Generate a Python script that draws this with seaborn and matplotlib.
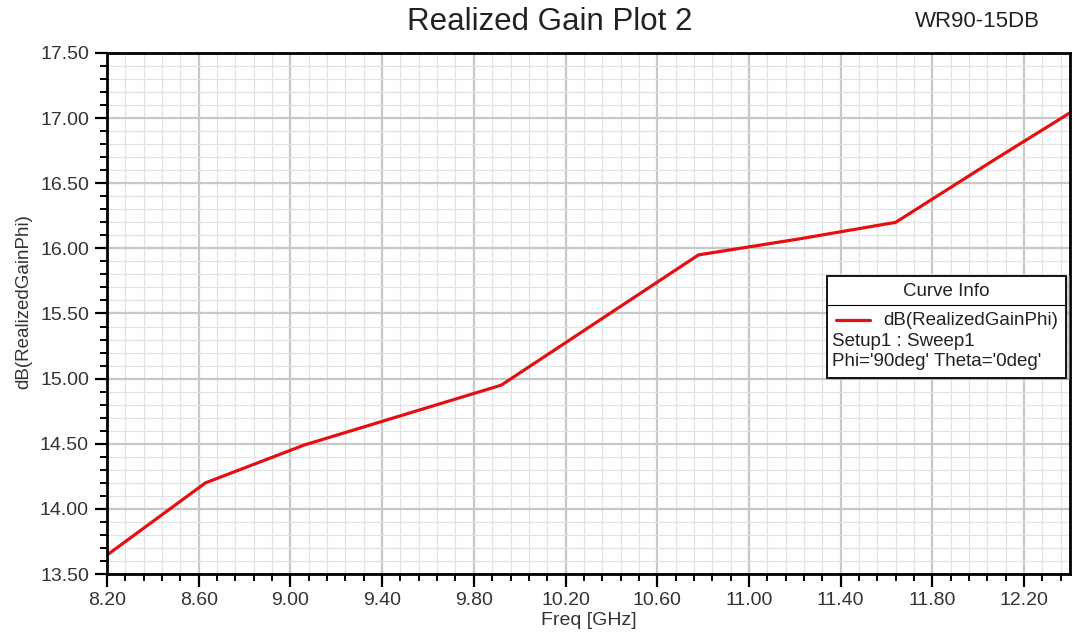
import numpy as np
import pandas as pd
import matplotlib
matplotlib.use('Agg')
import matplotlib.pyplot as plt
from matplotlib.ticker import FixedLocator, FormatStrFormatter
from matplotlib.patches import Rectangle
from matplotlib.lines import Line2D
import seaborn as sns

# datos
freq_ghz = [8.20, 8.63, 9.06, 9.49, 9.92, 10.35, 10.78, 11.21, 11.64, 12.07, 12.50]
gain_db = [13.645, 14.20, 14.49, 14.72, 14.95, 15.45, 15.95, 16.07, 16.20, 16.68, 17.15]

titulo = 'Realized Gain Plot 2'
nombre_diseno = 'WR90-15DB'
serie = 'dB(RealizedGainPhi)'
info_extra = ["Setup1 : Sweep1", "Phi='90deg' Theta='0deg'"]

x_mayores = np.arange(8.2, 12.25, 0.4)
x_menores = np.arange(8.2, 12.41, 0.08)
y_mayores = np.arange(13.5, 17.51, 0.5)
y_menores = np.arange(13.5, 17.51, 0.1)

df = pd.DataFrame({'freq': freq_ghz, 'gain': gain_db})

sns.set_style('white')
plt.rcParams['font.family'] = ['Liberation Sans', 'DejaVu Sans']

fig = plt.figure(figsize=(10.76, 6.37), dpi=100)
ax = fig.add_axes([0.0994, 0.0989, 0.895, 0.8179])

# grilla
ax.xaxis.set_major_locator(FixedLocator(x_mayores))
ax.xaxis.set_minor_locator(FixedLocator(x_menores))
ax.yaxis.set_major_locator(FixedLocator(y_mayores))
ax.yaxis.set_minor_locator(FixedLocator(y_menores))
ax.grid(which='major', color='#c8c8c8', linewidth=1.6)
ax.grid(which='minor', color='#e2e2e2', linewidth=0.9)
ax.set_axisbelow(True)

sns.lineplot(data=df, x='freq', y='gain', ax=ax, color='#e41010', linewidth=2.3,
             legend=False)

ax.set_xlim(8.2, 12.4)
ax.set_ylim(13.5, 17.5)
ax.xaxis.set_major_formatter(FormatStrFormatter('%.2f'))
ax.yaxis.set_major_formatter(FormatStrFormatter('%.2f'))

ax.tick_params(which='major', direction='out', length=9, width=1.6, colors='black',
               labelsize=14, labelcolor='#333333', bottom=True, left=True, pad=4)
ax.tick_params(which='minor', direction='out', length=5, width=1.4, colors='black',
               bottom=True, left=True)
for s in ax.spines.values():
    s.set_color('black')
    s.set_linewidth(2)

ax.set_xlabel('Freq [GHz]', fontsize=14, color='#333333')
ax.set_ylabel(serie, fontsize=13.5, color='#333333')
ax.xaxis.set_label_coords(0.5, -0.072)
ax.yaxis.set_label_coords(-0.078, 0.523)

fig.text(0.511, 0.9655, titulo, fontsize=22.5, ha='center', va='center', color='#222222')
fig.text(0.908, 0.9655, nombre_diseno, fontsize=16, ha='center', va='center', color='#222222')

# caja "Curve Info"
t = ax.transAxes
ax.add_patch(Rectangle((0.752, 0.372), 0.248, 0.2, transform=t, facecolor='#a0a0a0',
                       edgecolor='none', zorder=5, clip_on=False, alpha=0.5))
ax.add_patch(Rectangle((0.748, 0.376), 0.248, 0.196, transform=t, facecolor='white',
                       edgecolor='black', linewidth=1.3, zorder=6, clip_on=False))
ax.add_line(Line2D([0.748, 0.996], [0.516, 0.516], transform=t, color='black',
                   linewidth=0.8, zorder=7))
ax.text(0.872, 0.543, 'Curve Info', transform=t, ha='center', va='center',
        fontsize=13.5, color='#222222', zorder=8)
ax.add_line(Line2D([0.757, 0.792], [0.4875, 0.4875], transform=t, color='#e41010',
                   linewidth=2.3, zorder=8))
ax.text(0.806, 0.4875, serie, transform=t, ha='left', va='center',
        fontsize=13.5, color='#222222', zorder=8)
for i, linea in enumerate(info_extra):
    ax.text(0.753, 0.447 - 0.04 * i, linea, transform=t, ha='left', va='center',
            fontsize=13.5, color='#222222', zorder=8)

fig.savefig('out.png', dpi=100)
